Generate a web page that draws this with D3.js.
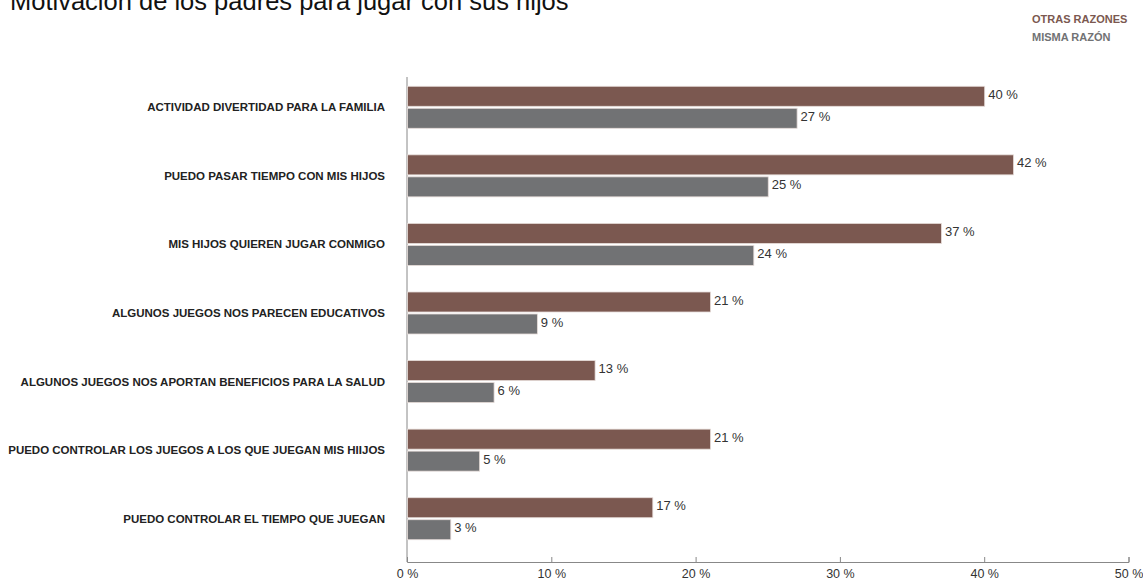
<!DOCTYPE html>
<html>
<head>
<meta charset="utf-8">
<script src="https://cdn.jsdelivr.net/npm/d3@7"></script>
<style>
  body { margin: 0; background: #fff; }
  svg { font-family: "Liberation Sans", Arial, sans-serif; }
</style>
</head>
<body>
<div id="chart"></div>
<script>
// data
const categories = [
  "ACTIVIDAD DIVERTIDAD PARA LA FAMILIA",
  "PUEDO PASAR TIEMPO CON MIS HIJOS",
  "MIS HIJOS QUIEREN JUGAR CONMIGO",
  "ALGUNOS JUEGOS NOS PARECEN EDUCATIVOS",
  "ALGUNOS JUEGOS NOS APORTAN BENEFICIOS PARA LA SALUD",
  "PUEDO CONTROLAR LOS JUEGOS A LOS QUE JUEGAN MIS HIIJOS",
  "PUEDO CONTROLAR EL TIEMPO QUE JUEGAN"
];
const otrasRazones = [40, 42, 37, 21, 13, 21, 17];
const mismaRazon = [27, 25, 24, 9, 6, 5, 3];
const seriesNames = ["OTRAS RAZONES", "MISMA RAZÓN"];
const xTicks = [0, 10, 20, 30, 40, 50];

const colors = ["#7b5850", "#717274"];

const W = 1143, H = 583;
const svg = d3.select("#chart").append("svg")
    .attr("width", W).attr("height", H);

// title, cut at the top as in the source
svg.append("text")
    .attr("x", 10).attr("y", 10)
    .style("font-size", "25.5px")
    .style("fill", "#111")
    .text("Motivación de los padres para jugar con sus hijos");

// legend
seriesNames.forEach(function(name, i) {
  svg.append("text")
      .attr("x", 1032).attr("y", 23 + i * 18)
      .style("font-size", "11px")
      .style("font-weight", "bold")
      .style("fill", colors[i])
      .text(name);
});

const x = d3.scaleLinear().domain([0, 50]).range([407, 1128.5]);
const y = d3.scaleBand().domain(categories).range([73, 553]);

const axisY = 562;

// x axis
const xAxis = svg.append("g")
    .attr("transform", "translate(0," + axisY + ")")
    .call(d3.axisBottom(x).tickValues(xTicks).tickSize(-5).tickPadding(7)
      .tickFormat(function(d) { return d + " %"; }));
xAxis.select(".domain").attr("stroke", "#888");
xAxis.selectAll(".tick line").attr("stroke", "#888");
xAxis.selectAll(".tick text")
    .style("font-size", "12.5px")
    .style("fill", "#333")
    .style("font-family", "Liberation Sans, Arial, sans-serif");

// vertical axis line
svg.append("line")
    .attr("x1", x(0)).attr("x2", x(0))
    .attr("y1", 77).attr("y2", axisY)
    .attr("stroke", "#888");

// category labels
svg.append("g").selectAll("text")
  .data(categories)
  .enter().append("text")
    .attr("x", 385)
    .attr("y", function(d) { return y(d) + y.bandwidth() / 2; })
    .attr("text-anchor", "end")
    .attr("dy", "0.35em")
    .style("font-size", "11.5px")
    .style("font-weight", "bold")
    .style("fill", "#222")
    .text(function(d) { return d; });

const barH = 20;
const series = [otrasRazones, mismaRazon];

series.forEach(function(vals, si) {
  const g = svg.append("g");
  const top = function(i) {
    const c = y(categories[i]) + y.bandwidth() / 2;
    return si === 0 ? c - barH - 1 : c + 1;
  };
  g.selectAll("rect")
    .data(vals)
    .enter().append("rect")
      .attr("x", x(0) + 0.5)
      .attr("y", function(d, i) { return top(i); })
      .attr("width", function(d) { return x(d) - x(0); })
      .attr("height", barH)
      .attr("fill", colors[si])
      .attr("stroke", "#e6dcd9")
      .attr("stroke-width", 0.8);
  g.selectAll("text")
    .data(vals)
    .enter().append("text")
      .attr("x", function(d) { return x(d) + 4; })
      .attr("y", function(d, i) { return top(i) + barH / 2 - 2; })
      .attr("dy", "0.35em")
      .style("font-size", "13px")
      .style("fill", "#333")
      .text(function(d) { return d + " %"; });
});
</script>
</body>
</html>
